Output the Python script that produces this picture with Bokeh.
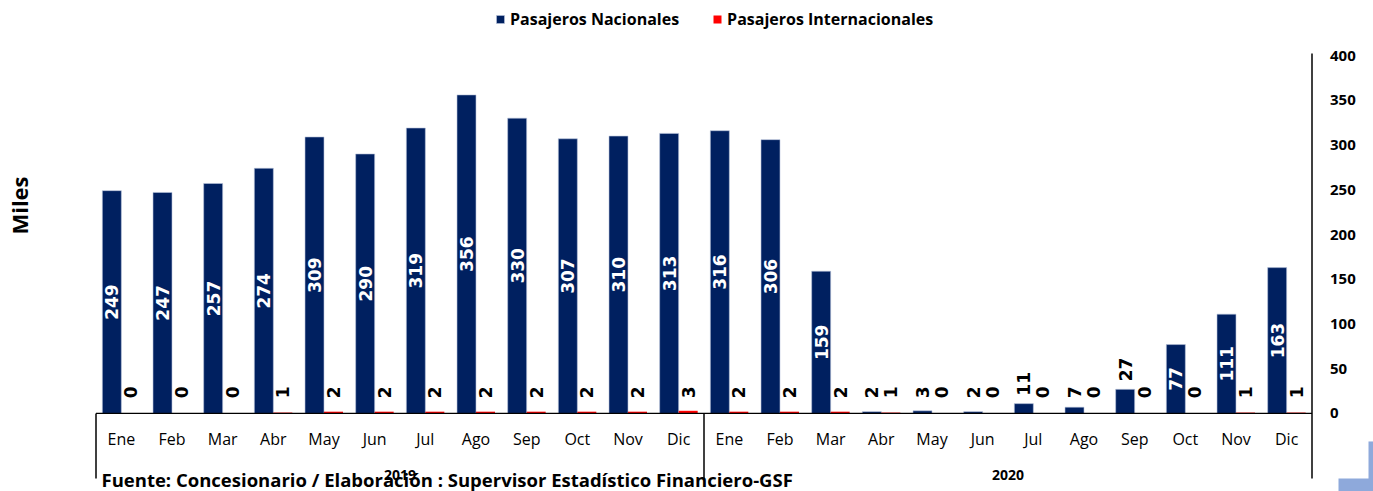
import numpy as np
from bokeh.plotting import figure
from bokeh.layouts import row
from bokeh.models import (FactorRange, Range1d, LinearAxis, FixedTicker, ColumnDataSource,
                          Legend, LegendItem, Label)
from bokeh.transform import dodge
from bokeh.core.properties import value
from bokeh.embed import file_html
from bokeh.resources import INLINE

years = ["2019", "2020"]
months = ["Ene", "Feb", "Mar", "Abr", "May", "Jun", "Jul", "Ago", "Sep", "Oct", "Nov", "Dic"]
nacionales = [249, 247, 257, 274, 309, 290, 319, 356, 330, 307, 310, 313,
              316, 306, 159, 2, 3, 2, 11, 7, 27, 77, 111, 163]
internacionales = [0, 0, 0, 1, 2, 2, 2, 2, 2, 2, 2, 3,
                   2, 2, 2, 1, 0, 0, 0, 0, 0, 0, 1, 1]
y_ticks = [0, 50, 100, 150, 200, 250, 300, 350, 400]
series_names = ["Pasajeros Nacionales", "Pasajeros Internacionales"]
y_title = "Miles"
fuente = "Fuente: Concesionario / Elaboración : Supervisor Estadístico Financiero-GSF"

NAVY = "#002060"
RED = "#FF0000"
DECO = "#8EA9DB"
Y_LO, Y_HI = -87.2, 461.5      # frame covers legend area and category band
AX_BOTTOM, AX_TOP = -72.6, 402.2
LEFT_W = 34
U = 1216 / 24                  # pixels per category
PAD = 61.5 / U                 # factor-range padding (units, each side)

# ---- left strip holding the axis title ----
pl = figure(width=LEFT_W, height=491, x_range=Range1d(0, LEFT_W), y_range=Range1d(0, 491),
            x_axis_location=None, y_axis_location=None, toolbar_location=None,
            output_backend="svg", min_border=0, title=None)
pl.outline_line_color = None
pl.grid.visible = False
pl.text(x=[18], y=[286], text=[y_title], angle=np.pi / 2, text_align="center",
        text_baseline="middle", text_color="black", text_font=value("Open Sans"),
        text_font_style="bold", text_font_size="22px")

# ---- main chart ----
factors = [(y, m) for y in years for m in months]
src = ColumnDataSource(dict(x=factors, nac=nacionales, intl=internacionales))
n = len(factors)

p = figure(width=1373 - LEFT_W, height=491, title=None,
           x_range=FactorRange(*factors, factor_padding=0, group_padding=0,
                               range_padding=PAD, range_padding_units="absolute"),
           y_range=Range1d(Y_LO, Y_HI),
           x_axis_location=None, y_axis_location=None,
           toolbar_location=None, output_backend="svg", min_border=0)
p.outline_line_color = None
p.grid.visible = False
p.background_fill_color = "white"

r1 = p.vbar(x=dodge('x', -0.1875, range=p.x_range), top='nac', width=0.375, source=src,
            fill_color=NAVY, line_color="#b8c4dc", line_width=0.6)
r2 = p.vbar(x=dodge('x', 0.1875, range=p.x_range), top='intl', width=0.375, source=src,
            fill_color=RED, line_color=None)

# value labels
in_x, in_y, in_t = [], [], []
on_x, on_y, on_t = [], [], []
for f, v in zip(factors, nacionales):
    if v >= 50:
        in_x.append(f); in_y.append(v / 2); in_t.append(str(v))
    else:
        on_x.append(f); on_y.append(max(v, 8)); on_t.append(str(v))
oi_x = list(factors)
oi_y = [max(v, 8) for v in internacionales]
oi_t = [str(v) for v in internacionales]

p.text(x=dodge('x', -0.1875, range=p.x_range), y='y', text='t',
       source=ColumnDataSource(dict(x=in_x, y=in_y, t=in_t)), angle=np.pi / 2,
       text_align="center", text_baseline="middle", text_color="white",
       text_font=value("DejaVu Sans"), text_font_style="bold", text_font_size="17px")
for xs, ys, ts, d in ((on_x, on_y, on_t, -0.1875), (oi_x, oi_y, oi_t, 0.1875)):
    p.text(x=dodge('x', d, range=p.x_range), y='y', text='t',
           source=ColumnDataSource(dict(x=xs, y=ys, t=ts)), angle=np.pi / 2,
           y_offset=-8, text_align="left", text_baseline="middle", text_color="black",
           text_font=value("DejaVu Sans"), text_font_style="bold", text_font_size="17px")

# category axis band
hl = ColumnDataSource(dict(x0=[factors[0]], x1=[factors[-1]], y=[0]))
p.segment(x0=dodge('x0', -0.5, range=p.x_range), x1=dodge('x1', 0.5, range=p.x_range),
          y0='y', y1='y', source=hl, line_color="black", line_width=1.2)
sep = ColumnDataSource(dict(x=[factors[0], factors[12]], y0=[0, 0], y1=[AX_BOTTOM, AX_BOTTOM]))
p.segment(x0=dodge('x', -0.5, range=p.x_range), x1=dodge('x', -0.5, range=p.x_range),
          y0='y0', y1='y1', source=sep, line_color="black", line_width=1.5)
rl = ColumnDataSource(dict(x=[factors[-1]], y0=[AX_BOTTOM], y1=[AX_TOP]))
p.segment(x0=dodge('x', 0.5, range=p.x_range), x1=dodge('x', 0.5, range=p.x_range),
          y0='y0', y1='y1', source=rl, line_color="black", line_width=1.5)

p.text(x='x', y=-29, text='m', source=ColumnDataSource(dict(x=factors, m=[f[1] for f in factors])),
       text_align="center", text_baseline="middle", text_color="black",
       text_font=value("Open Sans"), text_font_size="16px")
p.text(x='x', y=-63, text='x', source=ColumnDataSource(dict(x=years)),
       text_align="center", text_baseline="top", text_color="black",
       text_font=value("Open Sans"), text_font_style="bold", text_font_size="14px")

# right value axis, fixed at the right end of the category range
ax = LinearAxis(ticker=FixedTicker(ticks=y_ticks), fixed_location=float(n),
                major_tick_line_color=None, minor_tick_line_color=None,
                major_tick_in=0, major_tick_out=0, axis_line_color=None,
                major_label_standoff=18,
                major_label_text_font="Open Sans", major_label_text_font_style="bold",
                major_label_text_font_size="15px", major_label_text_color="black")
p.add_layout(ax, "right")

# light-blue corner decoration of the original slide
def sx(px):
    return (px - 95.5) / U
def sy(py):
    return (413 - py) / 0.895
p.quad(left=[sx(1338), sx(1368)], right=[sx(1374), sx(1374)],
       bottom=[sy(492), sy(492)], top=[sy(478), sy(441)],
       fill_color=DECO, line_color=None)

legend = Legend(items=[LegendItem(label=series_names[0], renderers=[r1]),
                       LegendItem(label=series_names[1], renderers=[r2])],
                orientation="horizontal", location=(495 - LEFT_W, 461), margin=0, padding=0,
                spacing=33, glyph_width=10, glyph_height=10, label_standoff=5,
                label_text_font="Open Sans", label_text_font_style="bold",
                label_text_font_size="16px", label_text_color="black",
                border_line_color=None, background_fill_alpha=0)
p.add_layout(legend)

p.add_layout(Label(x=101 - LEFT_W, y=0, x_units="screen", y_units="screen", text=fuente,
                   text_align="left", text_baseline="bottom",
                   text_font="Open Sans", text_font_style="bold", text_font_size="18.5px",
                   text_color="black"))

layout = row(pl, p, spacing=0)
open("out.html", "w").write(file_html(layout, INLINE))
